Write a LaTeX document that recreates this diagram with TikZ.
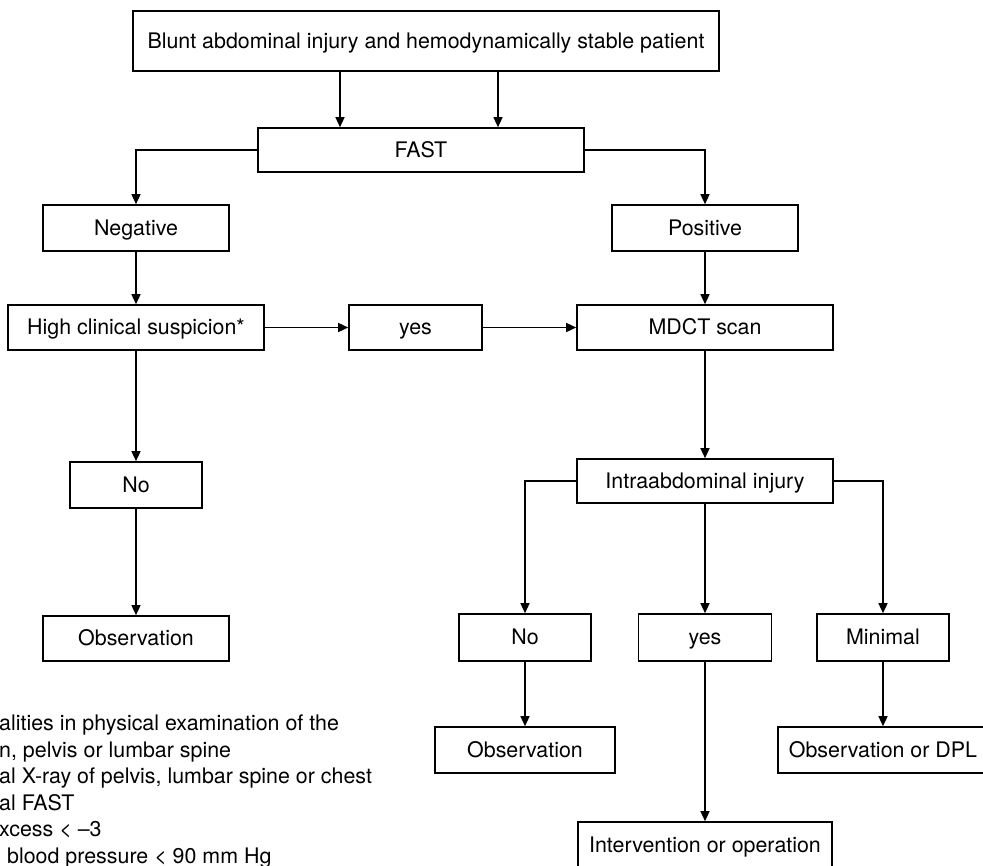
\documentclass[tikz,border=0pt]{standalone}
\usepackage{fontspec}
\setmainfont{TeX Gyre Heros}
\usetikzlibrary{arrows.meta}

\begin{document}
\begin{tikzpicture}[x=1pt, y=-1pt]
\tikzset{every node/.style={font=\fontsize{21.4}{26.5}\selectfont, inner sep=0pt}}
\tikzset{box/.style={draw, line width=1.6pt, text height=15.5pt, text depth=1pt}}
\tikzset{arr/.style={-{Triangle[length=10pt,width=9pt]}, line width=1.4pt}}

\useasboundingbox (0, 0) rectangle (983, 866);
\clip (0, 0) rectangle (983, 866);

% Nodes for the top part
\node[box, minimum width=586pt, minimum height=60pt] at (426, 41) (top) {Blunt abdominal injury and hemodynamically stable patient};
\node[box, minimum width=326pt, minimum height=44pt] at (421, 150) (fast) {FAST};
\node[box, minimum width=186pt, minimum height=46pt] at (136, 228) (neg) {Negative};
\node[box, minimum width=186pt, minimum height=46pt] at (705, 228) (pos) {Positive};

% Nodes for suspicion row
\node[box, minimum width=256pt, minimum height=45pt] at (136, 327.5) (hcs) {High clinical suspicion*};
\node[box, minimum width=133pt, minimum height=45pt] at (415.5, 327.5) (yes) {yes};
\node[box, minimum width=256pt, minimum height=45pt] at (705, 327.5) (mdct) {MDCT scan};

% Nodes for the left column
\node[box, minimum width=132pt, minimum height=46pt] at (136, 485) (noL) {No};
\node[box, minimum width=186pt, minimum height=45pt] at (136, 638.5) (obsL) {Observation};

% Nodes for the right part
\node[box, minimum width=256pt, minimum height=44pt] at (705, 481) (intra) {Intraabdominal injury};
\node[box, minimum width=132pt, minimum height=47pt] at (525, 637.5) (noR) {No};
\node[box, minimum width=133pt, minimum height=47pt] at (705, 637.5) (yesR) {yes};
\node[box, minimum width=132pt, minimum height=47pt] at (883, 637.5) (minimal) {Minimal};
\node[box, minimum width=180pt, minimum height=46pt] at (525, 750) (obsR) {Observation};
\node[box, minimum width=210pt, minimum height=46pt] at (883, 750) (dpl) {Observation or DPL};
\node[box, minimum width=254pt, minimum height=46pt] at (705, 845) (interv) {Intervention or operation};

% Footnote
\node[anchor=base west, align=left] at (-1, 863) (note) {alities in physical examination of the\\
n, pelvis or lumbar spine\\
al X-ray of pelvis, lumbar spine or chest\\
al FAST\\
xcess < --3\\
\hspace*{8pt}blood pressure < 90 mm Hg};

% Lines from the top
\coordinate (la) at (340, 0);
\coordinate (lb) at (498, 0);
\draw[arr] (top.south -| la) -- (fast.north -| la);
\draw[arr] (top.south -| lb) -- (fast.north -| lb);
\draw[arr] (fast.west) -| (neg.north);
\draw[arr] (fast.east) -| (pos.north);

% Lines for negative
\draw[arr] (neg) -- (hcs);
\draw[arr] (hcs) -- (yes);
\draw[arr] (yes) -- (mdct);
\draw[arr] (hcs) -- (noL);
\draw[arr] (noL) -- (obsL);

% Lines for positive
\draw[arr] (pos) -- (mdct);
\draw[arr] (mdct) -- (intra);
\draw[arr] (intra.west) -| (noR.north);
\draw[arr] (intra) -- (yesR);
\draw[arr] (intra.east) -| (minimal.north);
\draw[arr] (noR) -- (obsR);
\draw[arr] (yesR) -- (interv);
\draw[arr] (minimal) -- (dpl);
\end{tikzpicture}
\end{document}
